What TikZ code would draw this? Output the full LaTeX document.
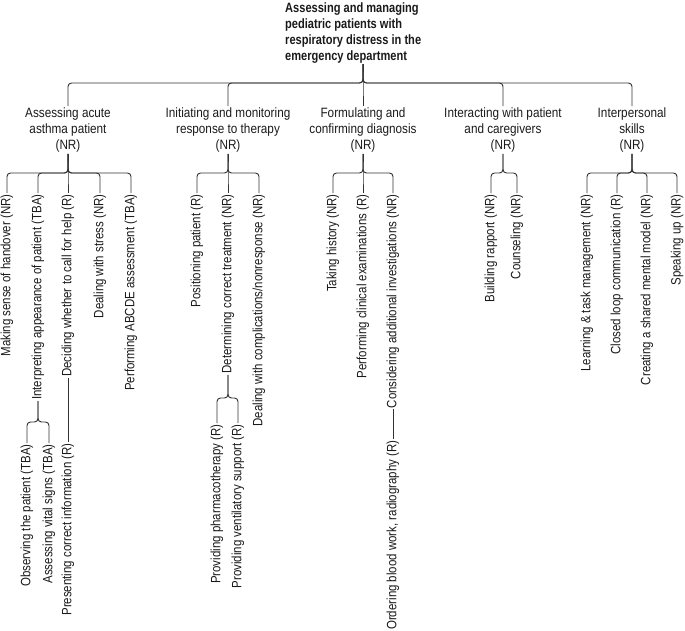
\documentclass[tikz,border=0pt]{standalone}
\usepackage{fontspec}
\setmainfont[FakeStretch=0.85]{Liberation Sans}
\newfontfamily\catfont[FakeStretch=0.87]{Liberation Sans}
\newfontfamily\titlefont[FakeStretch=0.82]{Liberation Sans}
\definecolor{linec}{HTML}{333333}
\definecolor{txtc}{HTML}{1A1A1A}
\newcommand{\fs}{\fontsize{13.5}{16.3}\selectfont}
\newcommand{\fsc}{\catfont\fontsize{13.5}{16.3}\selectfont}
\newcommand{\fst}{\titlefont\fontsize{13.5}{15.7}\selectfont\bfseries}
\tikzset{
  lnk/.style={draw=linec, line width=0.95pt, rounded corners=3.5pt},
  leaf/.style={rotate=90, anchor=east, inner sep=1.2pt, font=\fs, text=txtc},
  cat/.style={align=center, inner sep=1pt, font=\fsc, text=txtc},
}
\begin{document}
\begin{tikzpicture}[x=1pt,y=-1pt]
\useasboundingbox (0,0) rectangle (685,630);
% title
\node[font=\fst, align=left, anchor=north west, inner sep=1pt, text=txtc] (title) at (284,2)
  {Assessing and managing\\pediatric patients with\\respiratory distress in the\\emergency department};
% level 1
\node[cat] (l1) at (68,130) {Assessing acute\\asthma patient\\(NR)};
\node[cat] (l2) at (228,130) {Initiating and monitoring\\response to therapy\\(NR)};
\node[cat] (l3) at (363,130) {Formulating and\\confirming diagnosis\\(NR)};
\node[cat] (l4) at (503,130) {Interacting with patient\\and caregivers\\(NR)};
\node[cat] (l5) at (632,130) {Interpersonal\\skills\\(NR)};
\coordinate (bar0) at (363,83);
\foreach \n in {l1,l2,l3,l4,l5}
  \draw[lnk] (title.south -| bar0) -- (bar0) -| (\n.north);
% group 1
\node[leaf] (a1) at (7,193) {Making sense of handover (NR)};
\node[leaf] (a2) at (38,193) {Interpreting appearance of patient (TBA)};
\node[leaf] (a3) at (68,193) {Deciding whether to call for help (R)};
\node[leaf] (a4) at (100,193) {Dealing with stress (NR)};
\node[leaf] (a5) at (131,193) {Performing ABCDE assessment (TBA)};
\node[leaf] (a2a) at (27,443) {Observing the patient (TBA)};
\node[leaf] (a2b) at (49,443) {Assessing vital signs (TBA)};
\node[leaf] (a3a) at (68,442) {Presenting correct information (R)};
\coordinate (j1) at (68,173);
\foreach \n in {a1,a2,a3,a4,a5}
  \draw[lnk] (l1.south) -- (j1) -| (\n.east);
\coordinate (j1b) at (38,422);
\foreach \n in {a2a,a2b}
  \draw[lnk] (a2.west) -- (j1b) -| (\n.east);
\draw[lnk] (a3.west) -- (a3a.east);
% group 2
\node[leaf] (b1) at (197,193) {Positioning patient (R)};
\node[leaf] (b2) at (228,193) {Determining correct treatment (NR)};
\node[leaf] (b3) at (259,193) {Dealing with complications/nonresponse (NR)};
\node[leaf] (b2a) at (217,423) {Providing pharmacotherapy (R)};
\node[leaf] (b2b) at (238,423) {Providing ventilatory support (R)};
\coordinate (j2) at (228,173);
\foreach \n in {b1,b2,b3}
  \draw[lnk] (l2.south) -- (j2) -| (\n.east);
\coordinate (j2b) at (228,398);
\foreach \n in {b2a,b2b}
  \draw[lnk] (b2.west) -- (j2b) -| (\n.east);
% group 3
\node[leaf] (c1) at (333,193) {Taking history (NR)};
\node[leaf] (c2) at (363,193) {Performing clinical examinations (R)};
\node[leaf] (c3) at (393,193) {Considering additional investigations (NR)};
\node[leaf] (c3a) at (393,439) {Ordering blood work, radiography (R)};
\coordinate (j3) at (363,173);
\foreach \n in {c1,c2,c3}
  \draw[lnk] (l3.south) -- (j3) -| (\n.east);
\draw[lnk] (c3.west) -- (c3a.east);
% group 4
\node[leaf] (d1) at (491,193) {Building rapport (NR)};
\node[leaf] (d2) at (517,193) {Counseling (NR)};
\coordinate (j4) at (503,173);
\foreach \n in {d1,d2}
  \draw[lnk] (l4.south) -- (j4) -| (\n.east);
% group 5
\node[leaf] (e1) at (587,193) {Learning \& task management (NR)};
\node[leaf] (e2) at (617,193) {Closed loop communication (R)};
\node[leaf] (e3) at (647,193) {Creating a shared mental model (NR)};
\node[leaf] (e4) at (677,193) {Speaking up (NR)};
\coordinate (j5) at (632,173);
\foreach \n in {e1,e2,e3,e4}
  \draw[lnk] (l5.south) -- (j5) -| (\n.east);
\end{tikzpicture}
\end{document}
